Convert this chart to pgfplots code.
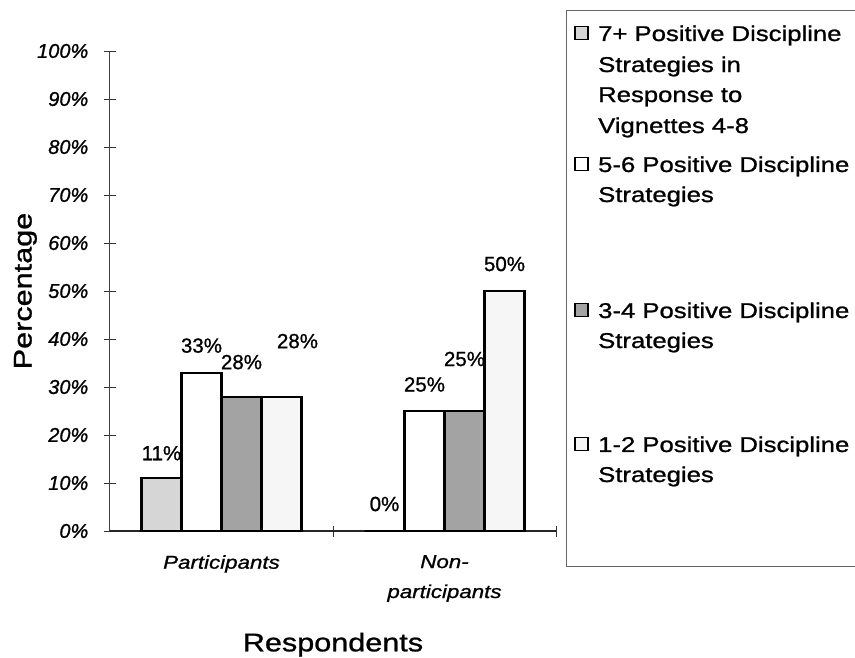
\documentclass[border=0pt]{standalone}
\usepackage{fontspec}
\setmainfont{Liberation Sans}[FakeBold=1.0]
\newfontfamily\widefont{Liberation Sans}[FakeStretch=1.2, FakeBold=1.0]
\usepackage{pgfplots}
\pgfplotsset{compat=1.18}
\newcommand\LE[2]{\rule{0pt}{#1pt}#2}
\pgfplotsset{sqlegend/.style={legend image code/.code={\draw[##1,/tikz/.cd,line width=1.4pt] (0pt,1.2pt) rectangle (13pt,14.2pt);}}}
\definecolor{lightbar}{gray}{0.84}
\definecolor{darkbar}{gray}{0.64}
\definecolor{palebar}{gray}{0.965}
\begin{document}
\begin{tikzpicture}
\useasboundingbox (0pt,0pt) rectangle (855pt,-657pt);
\clip (0pt,0pt) rectangle (855pt,-657pt);
\begin{axis}[
  at={(110pt,-531pt)}, anchor=south west,
  scale only axis, width=446pt, height=480pt,
  xmin=-0.5, xmax=1.5, ymin=0, ymax=100,
  axis x line*=bottom, axis y line*=left,
  x axis line style={line width=1.6pt, black!85},
  y axis line style={line width=1pt, black!75},
  ybar=0pt, bar width=40pt,
  tick align=center, major tick length=11pt,
  tick style={black!80, line width=1pt},
  ytick={0,10,...,100},
  /pgf/number format/assume math mode=true,
  yticklabel={\pgfmathprintnumber{\tick}\%},
  yticklabel style={font=\fontsize{20}{24}\selectfont\itshape, inner sep=0pt, anchor=east, xshift=-16pt},
  xtick={0.5,1.5}, xticklabels={,,},
  extra x ticks={0,1},
  extra x tick labels={Participants,{Non-\\participants}},
  extra x tick style={major tick length=0pt},
  xticklabel style={font=\widefont\fontsize{18.6}{30}\selectfont\itshape, align=center, inner sep=0pt, anchor=north, yshift=-24pt},
  xlabel={Respondents},
  ylabel={Percentage},
  every axis x label/.style={at={(axis description cs:0.5,-0.2369)}, anchor=center, font=\widefont\fontsize{25.5}{30}\selectfont},
  every axis y label/.style={at={(axis description cs:-0.1897,0.5)}, anchor=center, rotate=90, font=\widefont\fontsize{25.5}{30}\selectfont},
  legend style={draw=none, fill=none, inner sep=0pt, outer sep=0pt, row sep=0pt, column sep=9.5pt,
    at={(1.0410,1.0667)}, anchor=north west,
    font=\widefont\fontsize{21.4}{25}\selectfont,
    cells={anchor=base west}, nodes={inner sep=0pt, text depth=0pt}},
]
\addplot[fill=lightbar, draw=black, line width=2.2pt, bar shift=-60pt, sqlegend] coordinates {(0,11) (1,0)};
\addlegendentry{\LE{22}{7+ Positive Discipline}}
\addlegendimage{empty legend}
\addlegendentry{\LE{31}{Strategies in}}
\addlegendimage{empty legend}
\addlegendentry{\LE{30}{Response to}}
\addlegendimage{empty legend}
\addlegendentry{\LE{31}{Vignettes 4-8}}
\addplot[fill=white, draw=black, line width=2.2pt, bar shift=-20pt, sqlegend] coordinates {(0,33) (1,25)};
\addlegendentry{\LE{39}{5-6 Positive Discipline}}
\addlegendimage{empty legend}
\addlegendentry{\LE{30}{Strategies}}
\addplot[fill=darkbar, draw=black, line width=2.2pt, bar shift=20pt, sqlegend] coordinates {(0,28) (1,25)};
\addlegendentry{\LE{116}{3-4 Positive Discipline}}
\addlegendimage{empty legend}
\addlegendentry{\LE{30}{Strategies}}
\addplot[fill=palebar, draw=black, line width=2.2pt, bar shift=60pt, sqlegend] coordinates {(0,28) (1,50)};
\addlegendentry{\LE{104}{1-2 Positive Discipline}}
\addlegendimage{empty legend}
\addlegendentry{\LE{30}{Strategies}}
\begin{scope}[every node/.style={font=\fontsize{20.5}{24}\selectfont, inner sep=0pt}]
\node[xshift=-60pt, yshift=25pt] at (axis cs:0,11) {11\%};
\node[xshift=-20pt, yshift=27pt] at (axis cs:0,33) {33\%};
\node[xshift=20pt, yshift=34.5pt] at (axis cs:0,28) {28\%};
\node[xshift=76pt, yshift=55.5pt] at (axis cs:0,28) {28\%};
\node[xshift=-60pt, yshift=27pt] at (axis cs:1,0) {0\%};
\node[xshift=-20pt, yshift=26.5pt] at (axis cs:1,25) {25\%};
\node[xshift=20pt, yshift=52pt] at (axis cs:1,25) {25\%};
\node[xshift=60pt, yshift=27pt] at (axis cs:1,50) {50\%};
\end{scope}
\end{axis}
\draw[black!60, line width=0.9pt] (900pt,-10pt) -- (566pt,-10pt) -- (566pt,-566pt) -- (900pt,-566pt);
\end{tikzpicture}
\end{document}
